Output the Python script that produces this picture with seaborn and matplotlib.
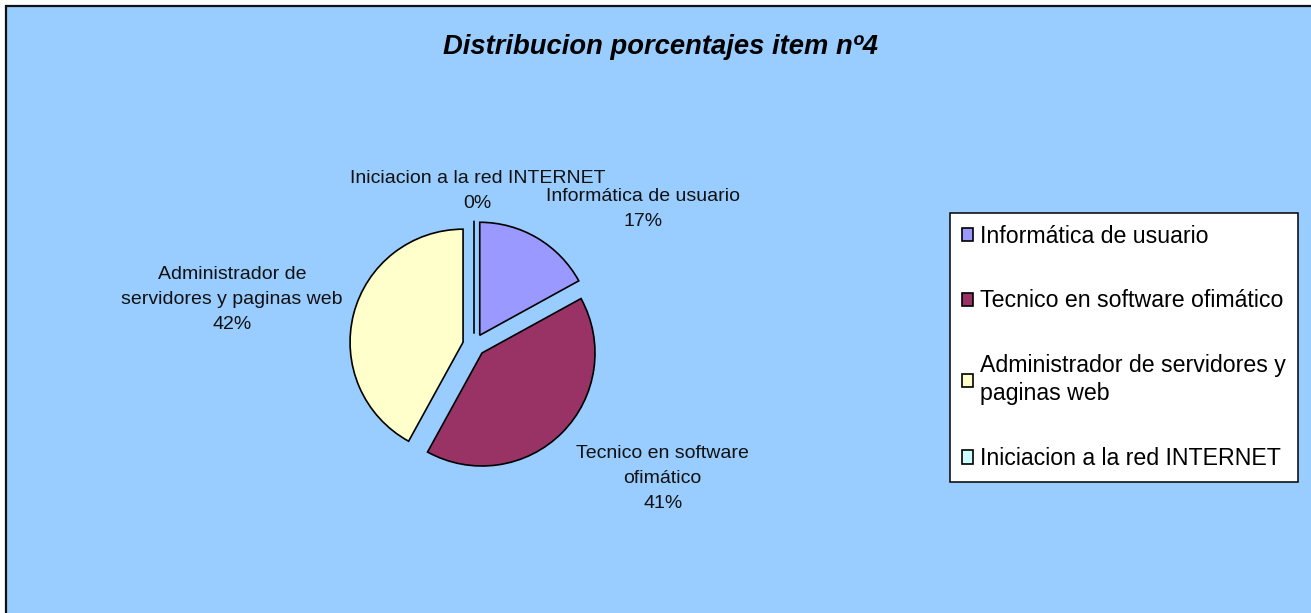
import matplotlib.pyplot as plt
import seaborn as sns
from matplotlib.patches import Rectangle

# %% data
categories = [
    "Informática de usuario",
    "Tecnico en software ofimático",
    "Administrador de servidores y paginas web",
    "Iniciacion a la red INTERNET",
]
shares = [17, 41, 42, 0]
slice_labels = [
    "Informática de usuario",
    "Tecnico en software\nofimático",
    "Administrador de\nservidores y paginas web",
    "Iniciacion a la red INTERNET",
]
legend_labels = [
    "Informática de usuario",
    "Tecnico en software ofimático",
    "Administrador de servidores y\npaginas web",
    "Iniciacion a la red INTERNET",
]
title = "Distribucion porcentajes item nº4"

# %% styling
colors = ["#9999FF", "#993366", "#FFFFCC", "#CCFFFF"]
bg = "#99CCFF"
W, H = 1311, 613
R_PX = 113  # pie radius in pixels
CX, CY = 474, 345  # pie centre in image pixels

sns.set_style("white")
plt.rcParams["font.family"] = ["Liberation Sans", "DejaVu Sans"]
plt.rcParams["text.color"] = "black"

fig = plt.figure(figsize=(W / 100, H / 100), dpi=100)
fig.patch.set_facecolor("white")
fig.add_artist(
    Rectangle(
        (6.5 / W, -0.1), 1.2, (H - 6.5) / H + 0.1,
        transform=fig.transFigure, facecolor=bg, edgecolor="#111111",
        lw=1.6, zorder=-10,
    )
)

lim = 1.6
side = 2 * lim * R_PX
ax = fig.add_axes([(CX - side / 2) / W, (H - CY - side / 2) / H, side / W, side / H])
ax.set_facecolor("none")

total = sum(shares)
wedges, _ = ax.pie(
    shares,
    colors=colors,
    startangle=90,
    counterclock=False,
    explode=[0.1] * len(shares),
    wedgeprops=dict(edgecolor="black", linewidth=1.2),
)
ax.set(xlim=(-lim, lim), ylim=(-lim, lim), aspect="equal")
ax.axis("off")

# label anchor points (pie-radius units), Excel "best fit" style placement
label_pos = [(1.50, 1.20), (1.67, -1.18), (-2.14, 0.40), (0.03, 1.36)]
for text, val, (x, y) in zip(slice_labels, shares, label_pos):
    ax.text(
        x, y, f"{text}\n{val / total * 100:.0f}%",
        ha="center", va="center", fontsize=14, linespacing=1.62, color="#111111",
    )

fig.text(
    660 / W, 1 - 47 / H, title,
    ha="center", va="center", fontsize=19.7, fontweight="bold", fontstyle="italic",
)

leg = fig.legend(
    wedges, legend_labels,
    loc="upper left", bbox_to_anchor=(950 / W, 1 - 213 / H),
    fontsize=16.7, frameon=True, fancybox=False, framealpha=1,
    edgecolor="black", facecolor="white",
    handlelength=0.5, handleheight=0.5, handletextpad=0.3,
    labelspacing=1.8, borderpad=0.5, borderaxespad=0,
)
leg.get_frame().set_linewidth(1.1)
for t in leg.get_texts():
    t.set_linespacing(1.3)

fig.savefig("out.png", dpi=100)
